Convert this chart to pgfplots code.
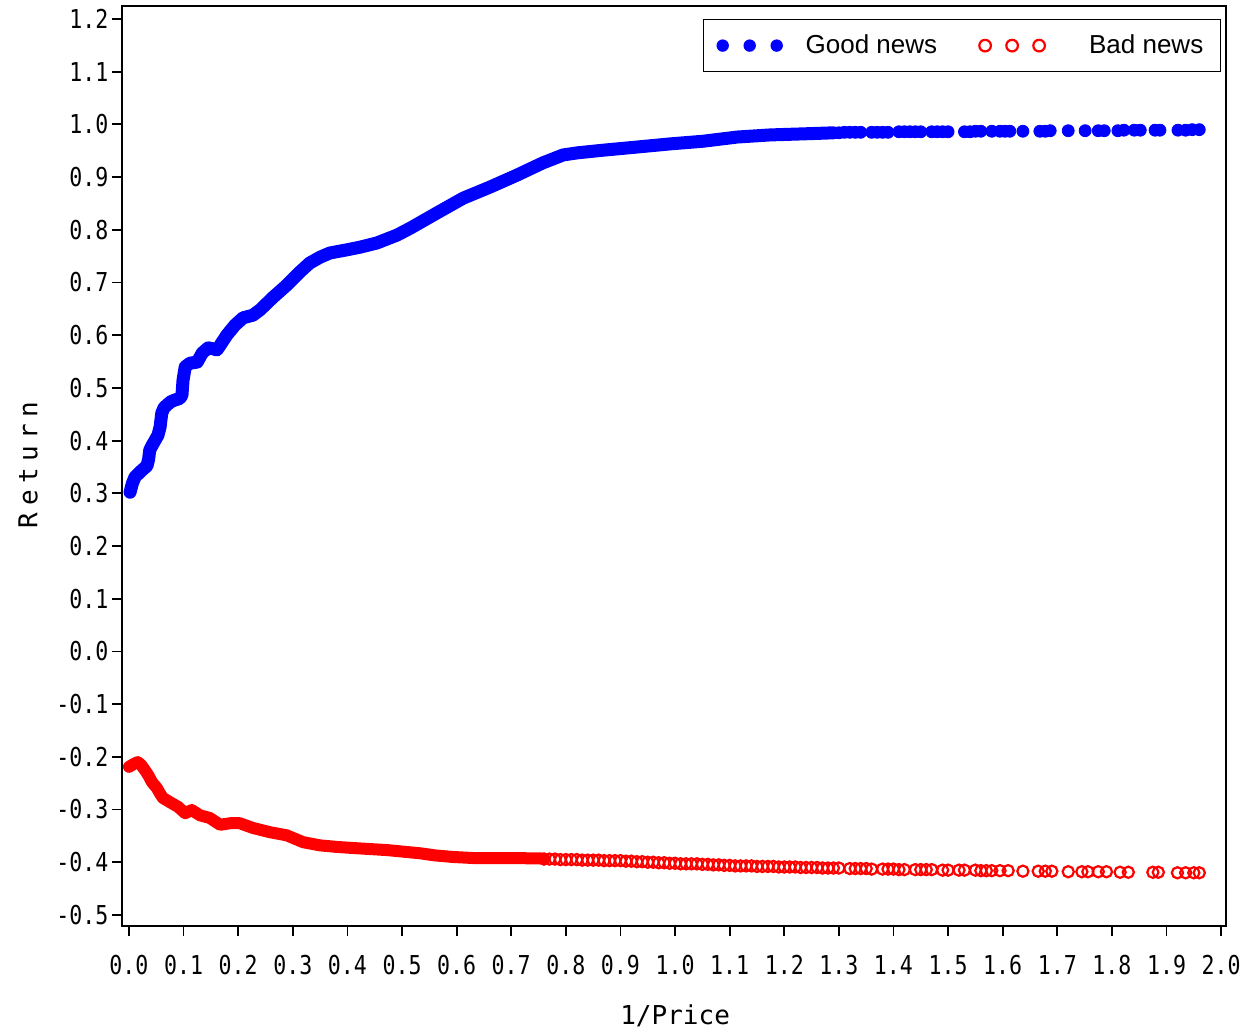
\documentclass[border=0pt]{standalone}
\usepackage{fontspec}
\usepackage{pgfplots}
\pgfplotsset{compat=1.18}
\setmainfont{Liberation Sans}
\newfontfamily\sasfont{DejaVu Sans Mono}
\newcommand{\sasf}{\sasfont\fontsize{13}{13}\selectfont}

\begin{document}
\begin{tikzpicture}
\begin{axis}[%
scale only axis,
width=552pt, height=460pt,
xmin=-0.0128, xmax=2.009,
ymin=-0.521, ymax=1.2247,
axis line style={line width=1pt},
tick align=outside,
xtick pos=bottom, ytick pos=left,
major tick length=5pt,
tick style={line width=0.9pt, black},
xtick={0,0.1,...,2.01},
xticklabels={0.0,0.1,0.2,0.3,0.4,0.5,0.6,0.7,0.8,0.9,1.0,1.1,1.2,1.3,1.4,1.5,1.6,1.7,1.8,1.9,2.0},
ytick={-0.5,-0.4,...,1.21},
yticklabels={-0.5,-0.4,-0.3,-0.2,-0.1,0.0,0.1,0.2,0.3,0.4,0.5,0.6,0.7,0.8,0.9,1.0,1.1,1.2},
xticklabel style={font=\sasf, xscale=0.83, yshift=-6pt},
yticklabel style={font=\sasf, xscale=0.83, xshift=1.3pt},
xlabel={\sasf 1/Price},
ylabel={\sasf R\kern3.2pt e\kern3.2pt t\kern3.2pt u\kern3.2pt r\kern3.2pt n},
xlabel style={at={(axis description cs:0.501,-0.098)}, anchor=center},
ylabel style={at={(axis description cs:-0.085,0.501)}, anchor=center},
clip=false,
legend columns=2,
legend style={at={(0.9955,0.9859)}, anchor=north east, draw=black,
  line width=0.75pt, inner xsep=6.5pt, inner ysep=5.5pt,
  font=\fontsize{13}{13}\selectfont,
  nodes={inner sep=2pt},
  /tikz/every even column/.append style={column sep=18.5pt}},
]
% good news, dense part
\addplot[blue, line width=6.5pt, line cap=round, line join=round, forget plot] coordinates {
(0.002,0.302)(0.006,0.318)(0.011,0.331)(0.018,0.338)(0.024,0.344)(0.033,0.352)
(0.036,0.365)(0.038,0.382)(0.043,0.392)(0.048,0.401)(0.053,0.410)(0.057,0.426)
(0.060,0.452)(0.064,0.462)(0.070,0.468)(0.077,0.474)(0.084,0.477)(0.093,0.480)
(0.097,0.486)(0.099,0.515)(0.103,0.540)(0.112,0.547)(0.125,0.549)(0.134,0.566)
(0.145,0.576)(0.155,0.574)(0.161,0.572)(0.167,0.581)(0.179,0.600)(0.194,0.619)
(0.209,0.633)(0.227,0.638)(0.240,0.648)(0.264,0.672)(0.289,0.695)(0.313,0.720)
(0.331,0.737)(0.350,0.748)(0.368,0.756)(0.399,0.762)(0.423,0.767)(0.454,0.775)
(0.491,0.790)(0.515,0.803)(0.564,0.832)(0.612,0.860)(0.661,0.881)(0.711,0.904)
(0.758,0.927)(0.795,0.942)(0.821,0.946)(0.868,0.951)(0.930,0.957)(0.991,0.963)
(1.051,0.968)(1.114,0.976)(1.174,0.980)(1.234,0.982)(1.290,0.984)};
% good news, sparse part
\addplot[only marks, mark=*, mark size=3pt, blue, forget plot] coordinates {
(1.30,0.984)(1.31,0.985)(1.32,0.985)(1.33,0.985)(1.34,0.985)(1.36,0.985)(1.37,0.985)
(1.38,0.985)(1.39,0.985)(1.41,0.986)(1.42,0.986)(1.43,0.986)(1.44,0.986)(1.45,0.986)
(1.47,0.986)(1.48,0.986)(1.49,0.986)(1.50,0.986)(1.53,0.986)(1.54,0.986)(1.55,0.987)
(1.56,0.987)(1.58,0.987)(1.595,0.987)(1.604,0.987)(1.613,0.987)(1.637,0.987)
(1.668,0.987)(1.678,0.987)(1.687,0.988)(1.720,0.988)(1.751,0.988)(1.775,0.988)
(1.786,0.988)(1.811,0.988)(1.822,0.989)(1.841,0.989)(1.852,0.989)(1.879,0.989)
(1.888,0.989)(1.921,0.989)(1.935,0.989)(1.947,0.990)(1.960,0.990)};
% bad news, dense part
\addplot[red, line width=6pt, line cap=round, line join=round, forget plot] coordinates {
(0.000,-0.219)(0.008,-0.214)(0.016,-0.210)(0.022,-0.215)(0.029,-0.225)(0.036,-0.236)
(0.042,-0.248)(0.051,-0.259)(0.057,-0.270)(0.062,-0.278)(0.075,-0.286)(0.090,-0.295)
(0.103,-0.307)(0.115,-0.301)(0.130,-0.311)(0.148,-0.316)(0.167,-0.329)(0.185,-0.326)
(0.203,-0.326)(0.227,-0.335)(0.258,-0.343)(0.289,-0.349)(0.319,-0.362)(0.350,-0.368)
(0.381,-0.371)(0.410,-0.373)(0.473,-0.377)(0.533,-0.383)(0.560,-0.387)(0.593,-0.390)
(0.630,-0.392)(0.700,-0.392)(0.760,-0.393)};
% bad news, open circles
\addplot[only marks, mark=o, mark size=2.8pt, red, mark options={line width=1.1pt}, forget plot] coordinates {
(0.76,-0.394)(0.77,-0.394)(0.78,-0.394)(0.79,-0.395)(0.80,-0.395)(0.81,-0.395)
(0.82,-0.395)(0.83,-0.396)(0.84,-0.396)(0.85,-0.396)(0.86,-0.396)(0.87,-0.397)
(0.88,-0.397)(0.89,-0.397)(0.90,-0.397)(0.91,-0.398)(0.92,-0.398)(0.93,-0.399)
(0.94,-0.399)(0.95,-0.400)(0.96,-0.400)(0.97,-0.401)(0.98,-0.401)(0.99,-0.402)
(1.00,-0.402)(1.01,-0.403)(1.02,-0.403)(1.03,-0.403)(1.04,-0.403)(1.05,-0.404)
(1.06,-0.404)(1.07,-0.405)(1.08,-0.405)(1.09,-0.406)(1.10,-0.406)(1.11,-0.407)
(1.12,-0.407)(1.13,-0.407)(1.14,-0.407)(1.15,-0.408)(1.16,-0.408)(1.17,-0.408)
(1.18,-0.408)(1.19,-0.409)(1.20,-0.409)(1.21,-0.409)(1.22,-0.409)(1.23,-0.410)
(1.24,-0.410)(1.25,-0.410)(1.26,-0.410)(1.27,-0.411)(1.28,-0.411)(1.29,-0.411)
(1.30,-0.411)(1.32,-0.412)(1.33,-0.412)(1.34,-0.412)(1.35,-0.412)(1.36,-0.413)
(1.38,-0.413)(1.39,-0.413)(1.40,-0.413)(1.41,-0.414)(1.42,-0.414)(1.44,-0.414)
(1.45,-0.414)(1.46,-0.414)(1.47,-0.414)(1.49,-0.415)(1.50,-0.415)(1.52,-0.415)
(1.53,-0.415)(1.55,-0.415)(1.56,-0.416)(1.57,-0.416)(1.58,-0.416)(1.595,-0.416)
(1.610,-0.416)(1.637,-0.417)(1.665,-0.417)(1.678,-0.417)(1.690,-0.417)(1.720,-0.418)
(1.745,-0.418)(1.756,-0.418)(1.775,-0.418)(1.790,-0.418)(1.815,-0.419)(1.830,-0.419)
(1.875,-0.419)(1.885,-0.419)(1.920,-0.420)(1.935,-0.420)(1.950,-0.420)(1.960,-0.420)};

\addlegendimage{legend image code/.code={%
  \path[draw=none, fill=none] (-3pt,-3pt) rectangle (39.5pt,3pt);
  \fill[blue, draw=none] (0pt,0pt) circle (3.1pt);
  \fill[blue, draw=none] (13.5pt,0pt) circle (3.1pt);
  \fill[blue, draw=none] (27pt,0pt) circle (3.1pt);}}
\addlegendentry{Good news}
\addlegendimage{legend image code/.code={%
  \path[draw=none, fill=none] (-3pt,-3pt) rectangle (50pt,3pt);
  \draw[red, fill=none, line width=1.1pt] (0pt,0pt) circle (2.9pt);
  \draw[red, fill=none, line width=1.1pt] (13.5pt,0pt) circle (2.9pt);
  \draw[red, fill=none, line width=1.1pt] (27pt,0pt) circle (2.9pt);}}
\addlegendentry{Bad news}

\coordinate (bbl) at (rel axis cs:-0.1105,-0.1141);
\coordinate (btr) at (rel axis cs:1.0199,1.0065);
\end{axis}
\pgfresetboundingbox
\path[use as bounding box] (bbl) rectangle (btr);
\end{tikzpicture}
\end{document}
